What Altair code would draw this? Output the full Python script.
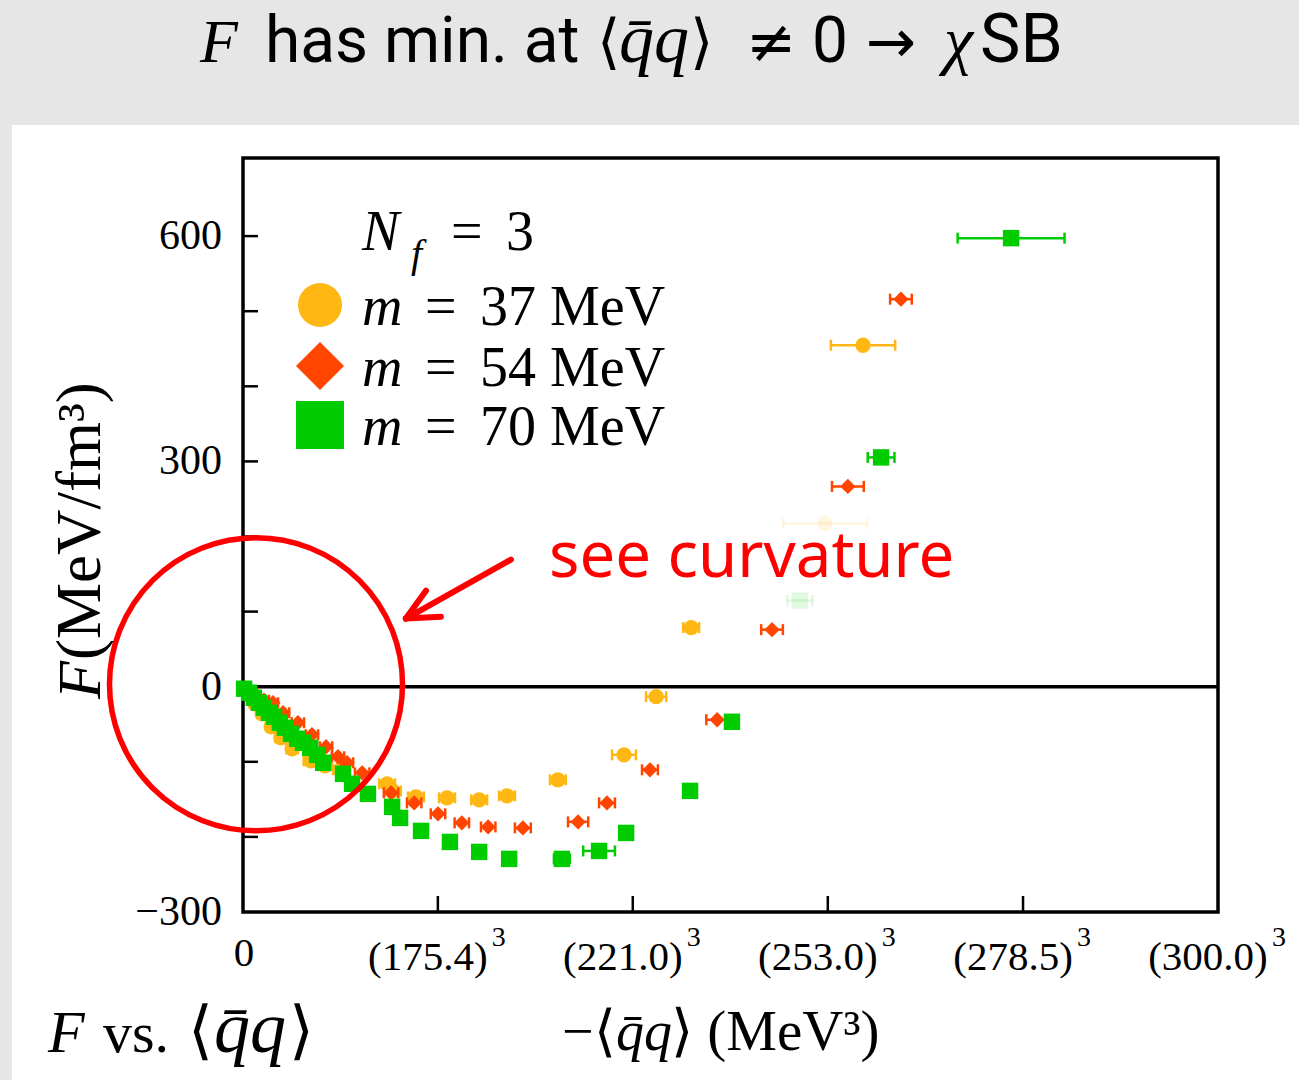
import altair as alt
import pandas as pd

# ---------------- data (x in 10^6 MeV^3, y in MeV/fm^3) ----------------
series_names = ["m = 37 MeV", "m = 54 MeV", "m = 70 MeV"]
series_colors = ["#FFB714", "#FF4500", "#00CC00"]
series_shapes = ["circle", "diamond", "square"]

m37_x = [0.03, 0.17, 0.33, 0.53, 0.78, 1.05, 1.36, 1.88, 2.27, 2.69,
         3.99, 4.15, 4.79, 5.65, 6.54, 7.31, 8.72, 10.55, 11.44, 12.41, 17.17]
m37_y = [-2.7, -10.7, -22.7, -36.0, -53.3, -68.0, -82.7, -98.7, -105.3, -110.7,
         -129.3, -138.7, -146.7, -148.0, -150.7, -145.3, -124.0, -90.7, -13.3, 78.7, 454.7]
m37_err = [0.12, 0.12, 0.12, 0.14, 0.14, 0.16, 0.16, 0.2, 0.2, 0.2,
           0.22, 0.22, 0.22, 0.22, 0.22, 0.22, 0.22, 0.33, 0.28, 0.22, 0.89]
m37_faded_x = [16.12]
m37_faded_y = [217.3]
m37_faded_err = [1.16]

m54_x = [0.06, 0.25, 0.58, 0.83, 1.11, 1.52, 1.91, 2.30, 2.63, 2.88,
         3.30, 4.10, 4.74, 5.40, 6.06, 6.79, 7.75, 9.28, 10.08, 11.27,
         13.13, 14.65, 16.75, 18.22]
m54_y = [-2.7, -9.0, -18.0, -21.3, -34.7, -48.0, -64.0, -80.0, -93.3, -101.3,
         -114.7, -141.3, -154.7, -169.3, -181.3, -186.7, -188.0, -180.0, -154.7, -110.7,
         -44.0, 76.0, 266.7, 516.0]
m54_err = [0.14, 0.14, 0.14, 0.14, 0.17, 0.17, 0.17, 0.17, 0.17, 0.17,
           0.2, 0.2, 0.2, 0.2, 0.2, 0.2, 0.22, 0.28, 0.22, 0.22,
           0.30, 0.30, 0.44, 0.30]
m54_faded_x = []
m54_faded_y = []
m54_faded_err = []

m70_x = [0.03, 0.17, 0.30, 0.44, 0.58, 0.72, 0.86, 1.02, 1.16, 1.33,
         1.50, 1.66, 1.86, 2.05, 2.22, 2.77, 3.02, 3.46, 4.13, 4.35,
         4.93, 5.73, 6.54, 7.37, 8.83, 9.86, 10.61, 12.38, 13.54, 17.67, 21.27]
m70_y = [-2.7, -8.0, -14.7, -21.3, -28.0, -34.7, -40.0, -48.0, -54.7, -62.7,
         -69.3, -74.7, -81.3, -90.7, -101.3, -116.0, -129.3, -142.7, -160.0, -174.7,
         -192.0, -206.7, -220.0, -229.3, -229.3, -218.7, -194.7, -138.7, -46.7, 305.3, 597.3]
m70_err = [0.1, 0.1, 0.1, 0.1, 0.1, 0.1, 0.1, 0.1, 0.1, 0.1,
           0.1, 0.1, 0.1, 0.1, 0.1, 0.14, 0.14, 0.14, 0.14, 0.14,
           0.14, 0.14, 0.14, 0.14, 0.22, 0.44, 0.14, 0.16, 0.14, 0.37, 1.48]
m70_faded_x = [15.42]
m70_faded_y = [114.7]
m70_faded_err = [0.35]

x_tick_roots = [175.4, 221.0, 253.0, 278.5, 300.0]      # tick labels: (root)^3
x_tick_labels = ["(175.4)", "(221.0)", "(253.0)", "(278.5)", "(300.0)"]
y_label_values = [-300, 0, 300, 600]
y_label_texts = ["\u2212300", "0", "300", "600"]
y_minor_ticks = [-200, -100, 0, 100, 200, 300, 400, 500, 600]

# annotation (data coordinates)
circle_center_x = [0.36]
circle_center_y = [3.3]
arrow_x = [7.42, 4.51, 4.51]
arrow_y = [169.3, 90.7, 90.7]
arrow_x2 = [4.51, 5.07, 5.48]
arrow_y2 = [90.7, 128.0, 93.3]

# ---------------- layout ----------------
W, H = 975, 754
OX, OY = 243, 158
X_MAX = 27.0
Y_MIN, Y_MAX = -300, 704

xs = alt.Scale(domain=[0, X_MAX], nice=False, zero=False)
ys = alt.Scale(domain=[Y_MIN, Y_MAX], nice=False, zero=False)
cscale = alt.Scale(domain=series_names, range=series_colors)
sscale = alt.Scale(domain=series_names, range=series_shapes)
oscale = alt.Scale(domain=["normal", "faded"], range=[1.0, 0.12])

rows = []
for name, xv, yv, ev, fx, fy, fe in [
    (series_names[0], m37_x, m37_y, m37_err, m37_faded_x, m37_faded_y, m37_faded_err),
    (series_names[1], m54_x, m54_y, m54_err, m54_faded_x, m54_faded_y, m54_faded_err),
    (series_names[2], m70_x, m70_y, m70_err, m70_faded_x, m70_faded_y, m70_faded_err),
]:
    for a, b, e in zip(fx, fy, fe):
        rows.append(dict(series=name, x=a, y=b, lo=a - e, hi=a + e, state="faded"))
    for a, b, e in zip(xv, yv, ev):
        rows.append(dict(series=name, x=a, y=b, lo=a - e, hi=a + e, state="normal"))
df = pd.DataFrame(rows)

one = pd.DataFrame({"k": [0]})
x_tick_vals = [r ** 3 / 1e6 for r in x_tick_roots]


def txt(s, x, y, size, font="Liberation Serif", style="normal", color="black", angle=0, align="left"):
    return alt.Chart(one).mark_text(
        text=s, x=x - OX, y=y - OY, fontSize=size, font=font, fontStyle=style,
        color=color, angle=angle, align=align, baseline="alphabetic"
    ).encode(opacity=alt.value(1))


def X(f):
    return alt.X(f, scale=xs, axis=None)


def Y(f):
    return alt.Y(f, scale=ys, axis=None)


layers = []

# white slide panel
layers.append(alt.Chart(one).mark_rect(color="white").encode(
    x=alt.value(12 - OX), x2=alt.value(1299 - OX), y=alt.value(125 - OY), y2=alt.value(1080 - OY)))

# frame
layers.append(alt.Chart(one).mark_rect(fillOpacity=0, stroke="black", strokeWidth=3.5).encode(
    x=alt.value(0), x2=alt.value(W), y=alt.value(0), y2=alt.value(H)))

# inward ticks
layers.append(alt.Chart(pd.DataFrame({"v": y_minor_ticks})).mark_rule(color="black", strokeWidth=2.5).encode(
    y=Y("v:Q"), x=alt.value(0), x2=alt.value(15)))
layers.append(alt.Chart(pd.DataFrame({"v": x_tick_vals[:-1]})).mark_rule(color="black", strokeWidth=2.5).encode(
    x=X("v:Q"), y=alt.value(H), y2=alt.value(H - 16)))

# tick labels (through the scales)
layers.append(alt.Chart(pd.DataFrame({"v": y_label_values, "t": y_label_texts})).mark_text(
    align="right", baseline="middle", font="Liberation Serif", fontSize=42, color="black").encode(
    y=Y("v:Q"), x=alt.value(-21), text="t:N"))
layers.append(alt.Chart(pd.DataFrame({"v": [0.0], "t": ["0"]})).mark_text(
    align="center", baseline="alphabetic", font="Liberation Serif", fontSize=41, color="black", dx=1).encode(
    x=X("v:Q"), y=alt.value(966 - OY), text="t:N"))
layers.append(alt.Chart(pd.DataFrame({"v": x_tick_vals, "t": x_tick_labels})).mark_text(
    align="center", baseline="alphabetic", font="Liberation Serif", fontSize=41, color="black", dx=-10).encode(
    x=X("v:Q"), y=alt.value(970 - OY), text="t:N"))
layers.append(alt.Chart(pd.DataFrame({"v": x_tick_vals, "t": ["3"] * len(x_tick_vals)})).mark_text(
    align="left", baseline="alphabetic", font="Liberation Serif", fontSize=28, color="black", dx=54).encode(
    x=X("v:Q"), y=alt.value(946 - OY), text="t:N"))

# zero line
layers.append(alt.Chart(one).mark_rule(color="black", strokeWidth=3.5).encode(
    y=alt.Y(datum=0, scale=ys, axis=None)))

for name in series_names:
    d = df[df.series == name]
    col = alt.Color("series:N", scale=cscale, legend=None)
    op = alt.Opacity("state:N", scale=oscale, legend=None)
    layers.append(alt.Chart(d).mark_rule(strokeWidth=2.5).encode(
        x=X("lo:Q"), x2="hi:Q", y=Y("y:Q"), color=col, opacity=op))
    for f in ["lo", "hi"]:
        layers.append(alt.Chart(d).mark_tick(orient="vertical", size=11, thickness=2.5).encode(
            x=X(f + ":Q"), y=Y("y:Q"), color=col, opacity=op))
    size = 270 if name == series_names[2] else 235
    layers.append(alt.Chart(d).mark_point(filled=True, size=size).encode(
        x=X("x:Q"), y=Y("y:Q"),
        color=col, shape=alt.Shape("series:N", scale=sscale, legend=None), opacity=op))

# red circle + arrow annotation
layers.append(alt.Chart(pd.DataFrame({"x": circle_center_x, "y": circle_center_y})).mark_point(
    shape="circle", filled=False, stroke="#FF0000", strokeWidth=5.5, size=293 ** 2, opacity=1).encode(
    x=X("x:Q"), y=Y("y:Q")))
layers.append(alt.Chart(pd.DataFrame({"x": arrow_x, "y": arrow_y, "x2": arrow_x2, "y2": arrow_y2})).mark_rule(
    color="#FF0000", strokeWidth=6, strokeCap="round").encode(
    x=X("x:Q"), y=Y("y:Q"), x2="x2:Q", y2="y2:Q"))
layers.append(txt("see curvature", 549, 577, 63.5, font="Noto Sans", color="#FF0000"))

# legend (in-plot)
leg_rows_y = [305, 366, 425]
leg_sizes = [1936, 2304, 2304]
for i, name in enumerate(series_names):
    layers.append(alt.Chart(one).mark_point(filled=True, opacity=1, shape=series_shapes[i],
                                            size=leg_sizes[i], color=series_colors[i]).encode(
        x=alt.value(320 - OX), y=alt.value(leg_rows_y[i] - OY)))
    base = leg_rows_y[i] + 20
    layers.append(txt("m", 362, base, 56, style="italic"))
    layers.append(txt("=", 425, base, 56))
    layers.append(txt(name.split("= ")[1], 480, base, 56))
layers.append(txt("N", 362, 250, 56, style="italic"))
layers.append(txt("f", 411, 267, 40, style="italic"))
layers.append(txt("=", 451, 250, 56))
layers.append(txt("3", 506, 250, 56))

# axis titles
layers.append(txt("F", 100, 699, 62, style="italic", angle=270))
layers.append(txt("(MeV/fm\u00b3)", 100, 660, 63, angle=270))
layers.append(txt("\u2212\u27e8", 562, 1050, 56))
layers.append(txt("q\u0304q", 616, 1050, 56, style="italic"))
layers.append(txt("\u27e9 (MeV\u00b3)", 671, 1050, 57))

# slide texts
layers.append(txt("F", 200, 62, 62, style="italic"))
layers.append(txt("has min. at", 265, 62, 64, font="Roboto"))
layers.append(txt("\u27e8", 597, 62, 60, font="DejaVu Sans"))
layers.append(txt("q\u0304q", 619, 62, 70, style="italic"))
layers.append(txt("\u27e9", 690, 62, 60, font="DejaVu Sans"))
layers.append(txt("\u2260", 746, 62, 60, font="DejaVu Sans"))
layers.append(txt("0", 812, 62, 64, font="Roboto"))
layers.append(txt("\u2192", 866, 62, 60, font="DejaVu Sans"))
layers.append(txt("\u03c7", 944, 62, 66, style="italic"))
layers.append(txt("SB", 980, 62, 68, font="Roboto"))

layers.append(txt("F", 48, 1052, 60, style="italic"))
layers.append(txt("vs.", 103, 1052, 58))
layers.append(txt("\u27e8", 188, 1052, 64, font="DejaVu Sans"))
layers.append(txt("q\u0304q", 214, 1052, 72, style="italic"))
layers.append(txt("\u27e9", 289, 1052, 64, font="DejaVu Sans"))

chart = alt.layer(*layers).properties(
    width=W, height=H,
    padding={"left": OX, "top": OY, "right": 1299 - OX - W, "bottom": 1080 - OY - H},
    autosize=alt.AutoSizeParams(type="none"),
    background="#E6E6E6",
).configure_view(strokeWidth=0)

chart.save("out.html", embed_options={"renderer": "svg", "actions": False})
